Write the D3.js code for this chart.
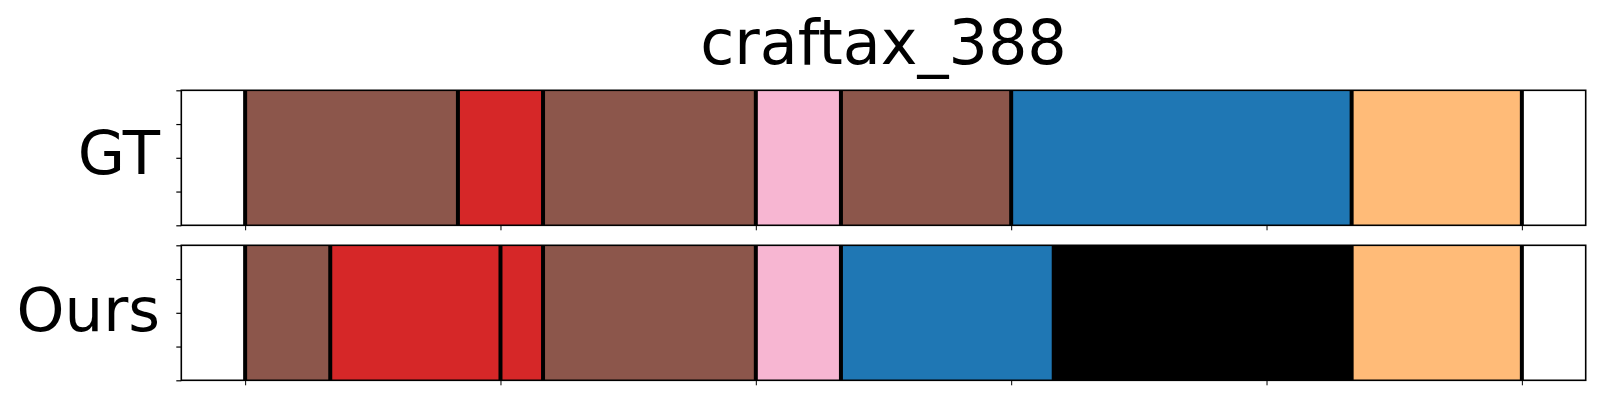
<!DOCTYPE html>
<html>
<head>
<meta charset="utf-8">
<script src="https://cdn.jsdelivr.net/npm/d3@7/dist/d3.min.js"></script>
<style>
  html, body { margin: 0; padding: 0; background: #fff; }
  svg { display: block; font-family: "DejaVu Sans", sans-serif; }
</style>
</head>
<body>
<svg id="chart" width="1600" height="400"></svg>
<script>
// ---- data ----
const title = "craftax_388";
const rowNames = ["GT", "Ours"];
// segment boundaries (time steps) and the class of each segment
const gtBounds = [0, 5, 7, 12, 14, 18, 26, 30];
const gtClasses = ["c5", "c3", "c5", "c6", "c5", "c0", "c1"];
const oursBounds = [0, 2, 6, 7, 12, 14, 19, 26, 30];
const oursClasses = ["c5", "c3", "c3", "c5", "c6", "c0", "cx", "c1"];
const xTicks = [0, 6, 12, 18, 24, 30];
const yTicks = [0, 0.25, 0.5, 0.75, 1];

// ---- style ----
const classColor = {
  c0: "#1f77b4", c1: "#ffbb78", c3: "#d62728", c5: "#8c564b", c6: "#f7b6d2", cx: "#000000"
};

const svg = d3.select("#chart");
const x = d3.scaleLinear().domain([-1.5, 31.5]).range([181.3, 1585.7]);

const panels = [
  { name: rowNames[0], bounds: gtBounds, classes: gtClasses, top: 90.3, bottom: 225.3, labelY: 174 },
  { name: rowNames[1], bounds: oursBounds, classes: oursClasses, top: 245.3, bottom: 380.3, labelY: 331 }
];

panels.forEach(p => {
  const y = d3.scaleLinear().domain([0, 1]).range([p.bottom, p.top]);
  const g = svg.append("g");
  const segs = p.classes.map((c, i) => ({ c, s: p.bounds[i], e: p.bounds[i + 1] }));
  g.selectAll("rect.seg").data(segs).enter().append("rect")
    .attr("class", "seg")
    .attr("x", d => x(d.s))
    .attr("width", d => x(d.e) - x(d.s))
    .attr("y", y(1))
    .attr("height", y(0) - y(1))
    .attr("fill", d => classColor[d.c]);
  // boundary lines
  g.selectAll("line.bd").data(p.bounds).enter().append("line")
    .attr("class", "bd")
    .attr("x1", d => x(d)).attr("x2", d => x(d))
    .attr("y1", y(1)).attr("y2", y(0))
    .attr("stroke", "#000").attr("stroke-width", 4);
  // axes
  const xAxis = d3.axisBottom(x).tickValues(xTicks).tickSize(5).tickFormat("");
  const gx = g.append("g").attr("transform", `translate(0,${p.bottom})`).call(xAxis);
  gx.select(".domain").remove();
  gx.selectAll(".tick line").attr("stroke", "#000").attr("stroke-width", 1);
  const yAxis = d3.axisLeft(y).tickValues(yTicks).tickSize(5).tickFormat("");
  const gy = g.append("g").attr("transform", `translate(${x.range()[0]},0)`).call(yAxis);
  gy.select(".domain").remove();
  gy.selectAll(".tick line").attr("stroke", "#000").attr("stroke-width", 1.2);
  // frame
  g.append("rect")
    .attr("x", x.range()[0]).attr("y", p.top)
    .attr("width", x.range()[1] - x.range()[0])
    .attr("height", p.bottom - p.top)
    .attr("fill", "none").attr("stroke", "#000").attr("stroke-width", 1.6);
  // row label
  svg.append("text")
    .attr("x", 160).attr("y", p.labelY)
    .attr("text-anchor", "end")
    .attr("font-size", 61)
    .attr("fill", "#000")
    .text(p.name);
});

svg.append("text")
  .attr("x", (x.range()[0] + x.range()[1]) / 2)
  .attr("y", 64)
  .attr("text-anchor", "middle")
  .attr("font-size", 62)
  .attr("fill", "#000")
  .text(title);
</script>
</body>
</html>
